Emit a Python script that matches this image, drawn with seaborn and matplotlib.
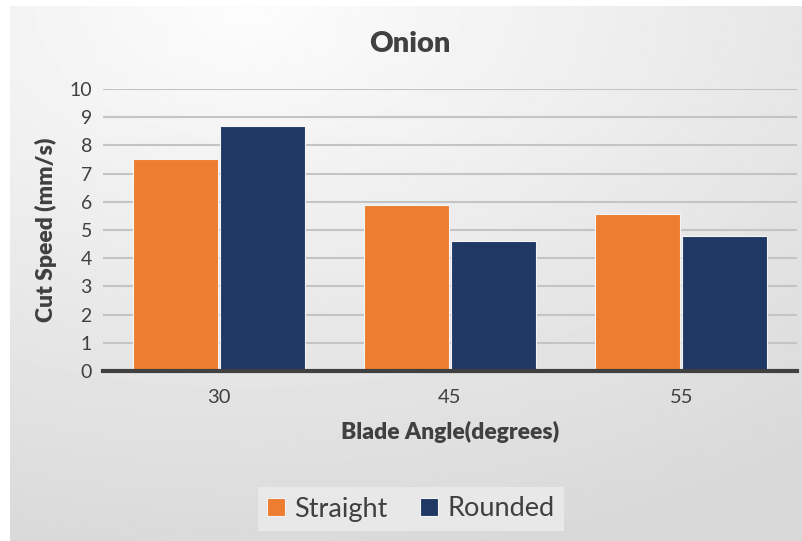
import numpy as np
import pandas as pd
import matplotlib
matplotlib.use("Agg")
import matplotlib.pyplot as plt
import seaborn as sns

angles = ["30", "45", "55"]
straight = [7.5, 5.9, 5.55]
rounded = [8.7, 4.6, 4.8]
series_names = ["Straight", "Rounded"]
colors = ["#ED7D31", "#203864"]

df = pd.DataFrame({
    "angle": angles * 2,
    "speed": straight + rounded,
    "blade": [series_names[0]] * 3 + [series_names[1]] * 3,
})

sns.set_theme(style="white")
plt.rcParams["font.family"] = ["Lato", "DejaVu Sans"]
txt = "#404040"

W, H = 803, 541
fig = plt.figure(figsize=(W / 100, H / 100), dpi=100)
fig.patch.set_facecolor("white")

# gradient background panel
bg = fig.add_axes([10 / W, 0, 1 - 10 / W, 1 - 6 / H], zorder=-5)
yy, xx = np.mgrid[0:1:300j, 0:1:400j]
r = np.sqrt(((xx - 0.3) * 1.0) ** 2 + (yy * 1.1) ** 2)
r = np.clip(r / 1.15, 0, 1)
vals = 0.99 - 0.14 * r
bg.imshow(vals, cmap="gray", vmin=0, vmax=1, aspect="auto", extent=[0, 1, 1, 0])
bg.set_axis_off()

ax = fig.add_axes([103 / W, 1 - 371 / H, (797 - 103) / W, (371 - 89) / H])
ax.set_facecolor("none")
sns.barplot(data=df, x="angle", y="speed", hue="blade", palette=colors,
            saturation=1, width=0.75, gap=0.02, edgecolor="#f4f4f4",
            linewidth=0.8, ax=ax, zorder=3, legend=True)
ax.set_ylim(0, 10)
ax.set_yticks(range(0, 11))
ax.yaxis.grid(True, color="#c4c4c4", linewidth=1.5, zorder=0)
ax.set_axisbelow(True)
for s in ["left", "right", "top"]:
    ax.spines[s].set_visible(False)
ax.spines["bottom"].set_color("#404040")
ax.spines["bottom"].set_linewidth(3)
ax.spines["bottom"].set_zorder(4)
ax.tick_params(axis="both", length=0, labelsize=14, colors=txt, pad=8)
ax.tick_params(axis="x", labelsize=14.5, pad=13)
ax.set_xlabel("Blade Angle(degrees)", fontsize=16.5, fontweight="heavy", color=txt, labelpad=11)
ax.set_ylabel("Cut Speed (mm/s)", fontsize=16.5, fontweight="heavy", color=txt, labelpad=9)
fig.text(0.5 + 8 / W, 1 - 44 / H, "Onion", ha="center", va="center",
         fontsize=21, fontweight="heavy", color=txt)

leg = ax.legend(loc="center", bbox_to_anchor=(411 / W, 1 - 509 / H),
                bbox_transform=fig.transFigure, ncol=2, frameon=True,
                fontsize=19.5, handlelength=0.65, handleheight=0.65,
                handletextpad=0.35, columnspacing=1.2, borderpad=0.35,
                fancybox=False)
leg.get_frame().set_facecolor("#ececec")
leg.get_frame().set_edgecolor("none")
for t in leg.get_texts():
    t.set_color(txt)

fig.savefig("out.png", dpi=100)
